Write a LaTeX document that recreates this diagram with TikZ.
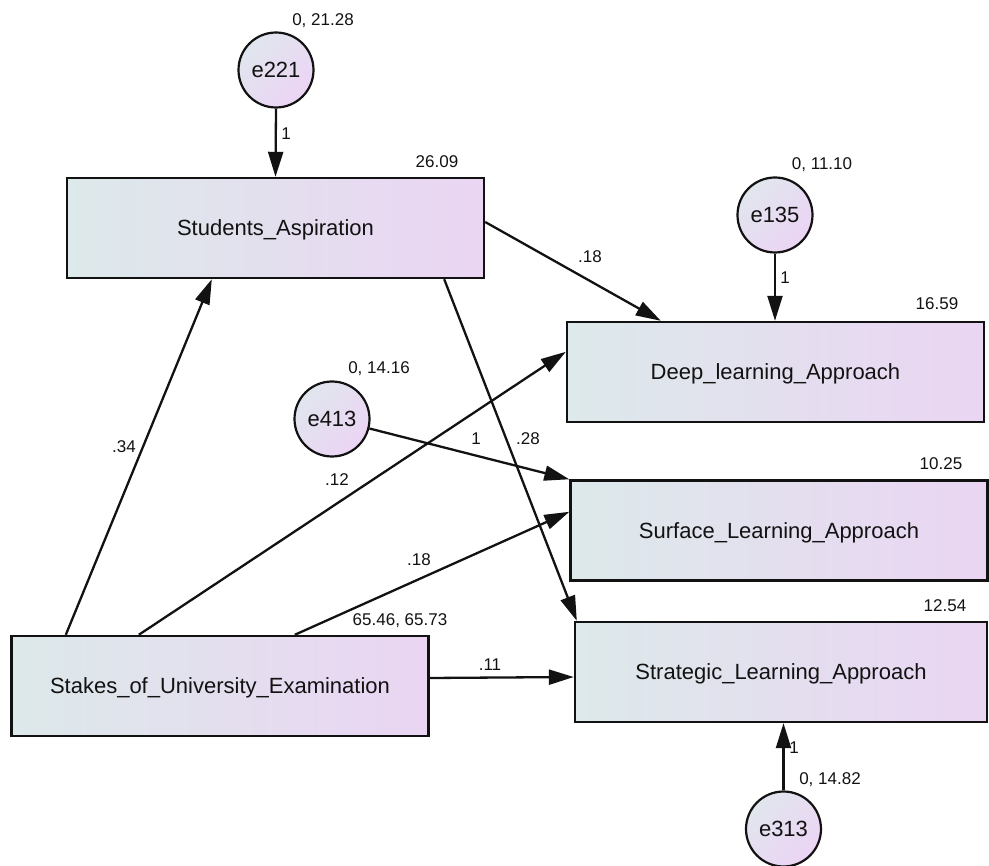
\documentclass[tikz,border=0pt]{standalone}
\usepackage{fontspec}
\setmainfont{Liberation Sans}
\usetikzlibrary{arrows.meta,calc}
\definecolor{boxL}{RGB}{221,233,234}
\definecolor{boxR}{RGB}{234,213,243}
\definecolor{cirL}{RGB}{224,230,238}
\definecolor{cirR}{RGB}{236,212,244}
\definecolor{ink}{RGB}{18,18,18}
\begin{document}
\begin{tikzpicture}[x=1pt,y=-1pt,
  obs/.style={draw=ink, line width=2.4pt, left color=boxL, right color=boxR,
    minimum width=417pt, minimum height=100pt, inner sep=0pt,
    font=\fontsize{22}{26}\selectfont, text height=15.8pt, text depth=0pt, text=ink},
  err/.style={circle, draw=ink, line width=2.2pt, top color=cirL, bottom color=cirR,
    shading angle=45, minimum size=75pt, inner sep=0pt,
    font=\fontsize{22}{26}\selectfont, text height=15.8pt, text depth=0pt, text=ink},
  lbl/.style={font=\fontsize{17}{20}\selectfont, inner sep=0pt,
    text height=12.2pt, text depth=0pt, text=ink},
  link/.style={draw=ink, line width=2.3pt, -{Triangle[length=25pt,width=15pt]}}
]
\useasboundingbox (0,0) rectangle (989,866);

% observed variables
\node[obs] (SA) at (275.5,228) {Students\_Aspiration};
\node[obs] (DL) at (775.5,372) {Deep\_learning\_Approach};
\node[obs] (SU) at (779,530.5) {Surface\_Learning\_Approach};
\node[obs, minimum width=412pt] (ST) at (781,672) {Strategic\_Learning\_Approach};
\node[obs] (SE) at (220,686) {Stakes\_of\_University\_Examination};

% error terms
\node[err] (e221) at (276,70) {e221};
\node[err] (e135) at (775,215) {e135};
\node[err] (e413) at (332,419) {e413};
\node[err] (e313) at (783.5,829) {e313};

% error paths
\draw[link] (e221.south) -- (SA.north);
\draw[link] (e135.south) -- (e135.south |- DL.north);
\draw[link] (e413) -- (SU.north west);
\draw[link] (e313.north) -- (e313.north |- ST.south);

% structural paths
\draw[link] ([yshift=6pt]SA.east) -- ([xshift=95pt]DL.north west);
\draw[link] ([xshift=-41pt]SA.south east) -- ([xshift=3pt]ST.north west);
\draw[link] ([xshift=55.5pt]SE.north west) -- ([xshift=146pt]SA.south west);
\draw[link] ([xshift=128.5pt]SE.north west) -- ([yshift=-31pt]DL.north west);
\draw[link] ([xshift=284.5pt]SE.north west) -- ([yshift=-32.5pt]SU.north west);
\draw[link] ([yshift=8pt]SE.east) -- ([yshift=-5pt]ST.west);

% variances and intercepts
\node[lbl] (v221) at (323,19) {0, 21.28};
\node[lbl] (vSA) at (437,161) {26.09};
\node[lbl] (v135) at (822,163) {0, 11.10};
\node[lbl] (vDL) at (937,303) {16.59};
\node[lbl] (v413) at (379,367) {0, 14.16};
\node[lbl] (vSU) at (941,463) {10.25};
\node[lbl] (vSE) at (400,619) {65.46, 65.73};
\node[lbl] (vST) at (945,605) {12.54};
\node[lbl] (v313) at (830,778) {0, 14.82};

% path coefficients
\node[lbl] (w221) at (286,133) {1};
\node[lbl] (w135) at (785,277) {1};
\node[lbl] (w413) at (476,438) {1};
\node[lbl] (w313) at (794,747) {1};
\node[lbl] (bSADL) at (590,256) {.18};
\node[lbl] (bSAST) at (528,438) {.28};
\node[lbl] (bSESA) at (124,446) {.34};
\node[lbl] (bSEDL) at (337,479) {.12};
\node[lbl] (bSESU) at (419,559) {.18};
\node[lbl] (bSEST) at (490,664) {.11};
\end{tikzpicture}
\end{document}
